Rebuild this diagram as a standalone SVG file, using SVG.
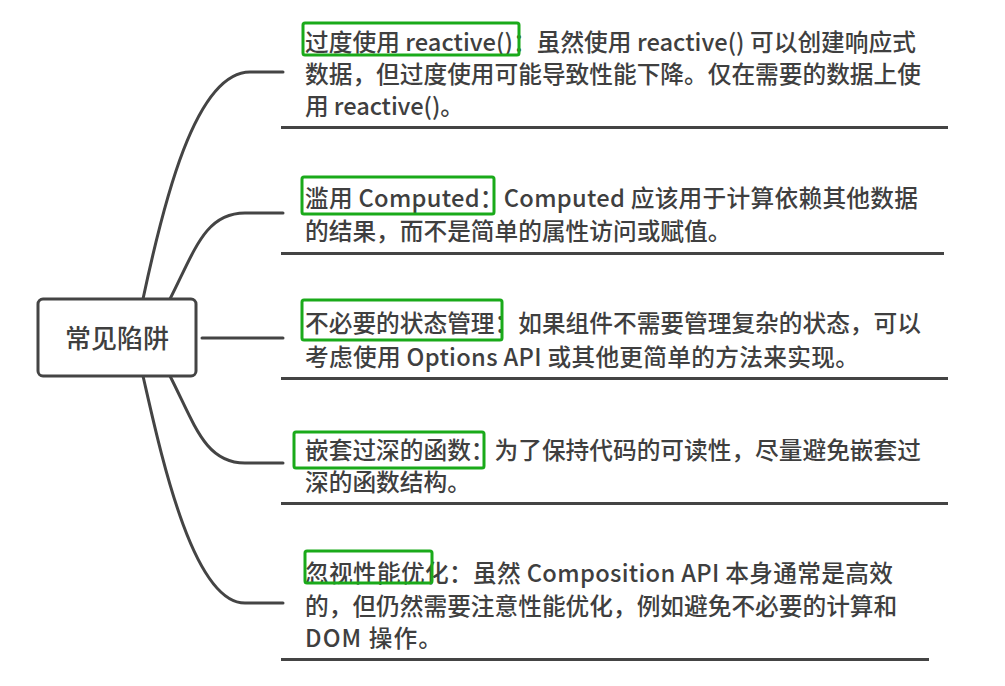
<svg xmlns="http://www.w3.org/2000/svg" width="1005" height="686" viewBox="0 0 1005 686">
<style>
.t{font-family:"Noto Sans CJK SC","Noto Sans",sans-serif;font-size:23.7px;font-weight:500;fill:#3f3f3f;}
.r{font-family:"Noto Sans CJK SC","Noto Sans",sans-serif;font-size:26px;font-weight:500;fill:#3f3f3f;}
.c{fill:none;stroke:#444;stroke-width:3;stroke-linecap:round;}
.u{stroke:#444;stroke-width:3.2;}
.g{fill:none;stroke:#1aaa1a;stroke-width:3;}
</style>
<rect width="1005" height="686" fill="#fff"/>
<g id="connectors">
<path class="c" d="M143,299 C163,205 195,72 250,72 L283,72"/>
<path class="c" d="M170,299 C195,250 205,213 245,213 L283,213"/>
<path class="c" d="M202,338 L283,338"/>
<path class="c" d="M170,376 C195,425 205,463 245,463 L283,463"/>
<path class="c" d="M143,376 C160,450 192,603 245,603 L283,603"/>
</g>
<g id="root">
<rect x="38" y="299" width="158" height="77" rx="5" fill="#fff" stroke="#444" stroke-width="3"/>
<text class="r" x="117" y="348" text-anchor="middle">常见陷阱</text>
</g>
<g id="n1">
<text class="t" x="305" y="51" textLength="611" lengthAdjust="spacing">过度使用 reactive()：虽然使用 reactive() 可以创建响应式</text>
<text class="t" x="305" y="83">数据，但过度使用可能导致性能下降。仅在需要的数据上使</text>
<text class="t" x="305" y="115" textLength="159" lengthAdjust="spacing">用 reactive()。</text>
<rect class="g" x="303" y="23" width="216" height="32" rx="2"/>
<line class="u" x1="281" y1="127.5" x2="948" y2="127.5"/>
</g>
<g id="n2">
<text class="t" x="305" y="207" textLength="613" lengthAdjust="spacing">滥用 Computed：Computed 应该用于计算依赖其他数据</text>
<text class="t" x="305" y="240">的结果，而不是简单的属性访问或赋值。</text>
<rect class="g" x="302" y="177" width="192" height="37" rx="2"/>
<line class="u" x1="281" y1="253.5" x2="944" y2="253.5"/>
</g>
<g id="n3">
<text class="t" x="305" y="332">不必要的状态管理：如果组件不需要管理复杂的状态，可以</text>
<text class="t" x="305" y="366" textLength="554" lengthAdjust="spacing">考虑使用 Options API 或其他更简单的方法来实现。</text>
<rect class="g" x="302" y="300" width="200" height="40" rx="2"/>
<line class="u" x1="281" y1="378.5" x2="948" y2="378.5"/>
</g>
<g id="n4">
<text class="t" x="305" y="459">嵌套过深的函数：为了保持代码的可读性，尽量避免嵌套过</text>
<text class="t" x="305" y="491">深的函数结构。</text>
<rect class="g" x="294" y="432" width="190" height="36" rx="2"/>
<line class="u" x1="281" y1="503.5" x2="948" y2="503.5"/>
</g>
<g id="n5">
<text class="t" x="305" y="582" textLength="588" lengthAdjust="spacing">忽视性能优化：虽然 Composition API 本身通常是高效</text>
<text class="t" x="305" y="615">的，但仍然需要注意性能优化，例如避免不必要的计算和</text>
<text class="t" x="305" y="647" textLength="137" lengthAdjust="spacing">DOM 操作。</text>
<rect class="g" x="305" y="551" width="127" height="32" rx="2"/>
<line class="u" x1="281" y1="659.5" x2="929" y2="659.5"/>
</g>
</svg>
